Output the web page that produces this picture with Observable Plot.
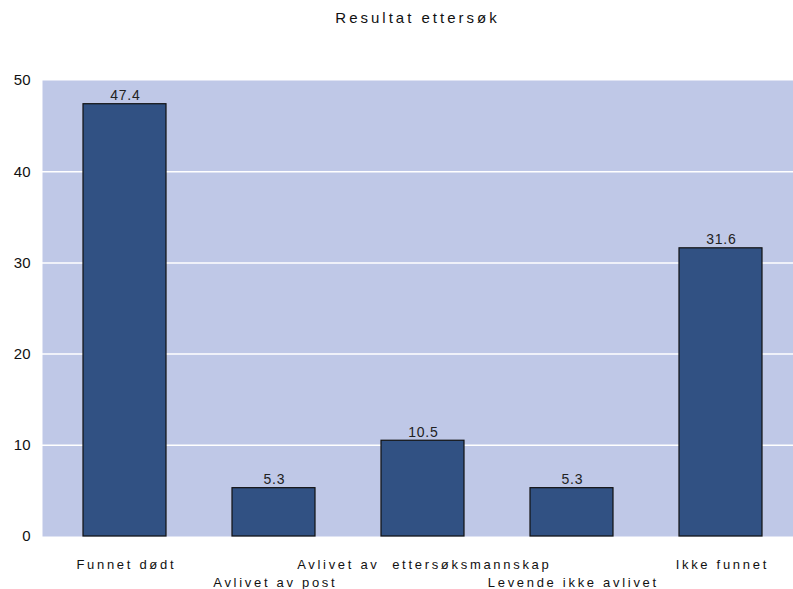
<!DOCTYPE html>
<html>
<head>
<meta charset="utf-8">
<script src="https://cdn.jsdelivr.net/npm/d3@7"></script>
<script src="https://cdn.jsdelivr.net/npm/@observablehq/plot@0.6"></script>
<style>
  body { margin: 0; background: #fff; font-family: "Liberation Sans", Arial, sans-serif; }
  #title { height: 36px; box-sizing: border-box; padding-top: 9px; line-height: 17px; text-align: center; font-size: 15px; letter-spacing: 3px; color: #111; padding-left: 42px; }
</style>
</head>
<body>
<div id="title">Resultat ettersøk</div>
<div id="chart"></div>
<script>
const categories = ["Funnet dødt", "Avlivet av post", "Avlivet av  ettersøksmannskap", "Levende ikke avlivet", "Ikke funnet"];
const values = [47.4, 5.3, 10.5, 5.3, 31.6];
const yTicks = [0, 10, 20, 30, 40, 50];

const data = categories.map((c, i) => ({cat: c, value: values[i]}));
const row1 = categories.filter((d, i) => i % 2 === 0);
const row2 = categories.filter((d, i) => i % 2 === 1);

const chart = Plot.plot({
  width: 793,
  height: 553,
  marginTop: 44,
  marginBottom: 53,
  marginLeft: 42,
  marginRight: 0,
  style: {fontFamily: "'Liberation Sans', Arial, sans-serif", background: "transparent"},
  x: {domain: categories, range: [49.5, 795.5], padding: 0, axis: null},
  y: {domain: [0, 50], axis: null},
  marks: [
    Plot.frame({fill: "#bfc8e7", stroke: null}),
    Plot.gridY(yTicks.filter(t => t > 0 && t < 50), {stroke: "#ffffff", strokeOpacity: 1, strokeWidth: 1.5}),
    Plot.barY(data, {x: "cat", y: "value", fill: "#315183", stroke: "#111", strokeWidth: 1.2, insetLeft: 33, insetRight: 33}),
    Plot.text(data, {x: "cat", y: "value", text: d => d.value.toFixed(1), lineAnchor: "bottom", dy: -4, fontSize: 14, fill: "#222"}),
    Plot.axisY(yTicks, {tickSize: 0, tickPadding: 12, fontSize: 15, color: "#111", label: null}),
    Plot.axisX(row1, {tickSize: 0, tickPadding: 23, fontSize: 13, label: null, color: "#111"}),
    Plot.axisX(row2, {tickSize: 0, tickPadding: 41, fontSize: 13, label: null, color: "#111"})
  ]
});
document.getElementById("chart").appendChild(chart);
d3.select(chart).selectAll('g[aria-label="x-axis tick label"] text')
  .style("letter-spacing", "2.7px").attr("dx", 1.3);
d3.select(chart).selectAll('g[aria-label="text"] text')
  .style("letter-spacing", "0.8px").attr("dx", 0.4);
</script>
</body>
</html>
